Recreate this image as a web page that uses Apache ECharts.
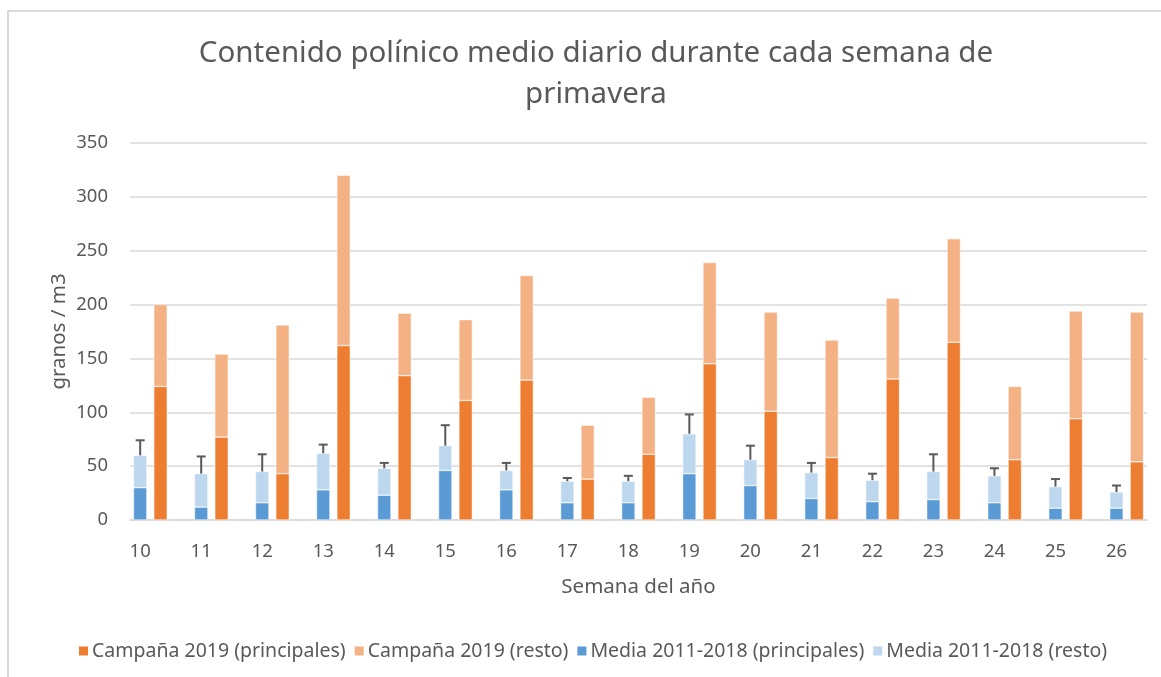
<!DOCTYPE html>
<html>
<head>
<meta charset="utf-8">
<script src="https://cdn.jsdelivr.net/npm/echarts@6/dist/echarts.min.js"></script>
<style>
  html, body { margin: 0; padding: 0; background: #fff; }
  #chart { width: 1161px; height: 677px; }
</style>
</head>
<body>
<div id="chart"></div>
<script>
// weeks of the year
var semanas = ['10','11','12','13','14','15','16','17','18','19','20','21','22','23','24','25','26'];

// Campaña 2019
var campPrinc = [124, 77, 43, 162, 134, 111, 130, 38, 61, 145, 101, 58, 131, 165, 56, 94, 54];
var campResto = [76, 77, 138, 158, 58, 75, 97, 50, 53, 94, 92, 109, 75, 96, 68, 100, 139];

// Media 2011-2018
var mediaPrinc = [30, 12, 16, 28, 23, 46, 28, 16, 16, 43, 32, 20, 17, 19, 16, 11, 11];
var mediaResto = [30, 31, 29, 34, 25, 23, 18, 20, 20, 37, 24, 24, 20, 26, 25, 20, 15];
// error bar (upper) on the media stack
var mediaError = [14, 16, 16, 8, 5, 19, 7, 3, 5, 18, 13, 9, 6, 16, 7, 7, 6];

// each week gets slots: media bar, campaña bar, gap
var slots = [];
var sMediaP = [], sMediaR = [], sCampP = [], sCampR = [], errData = [];
for (var i = 0; i < semanas.length; i++) {
  var m = slots.length;
  slots.push(semanas[i]);
  sMediaP.push(mediaPrinc[i]); sMediaR.push(mediaResto[i]); sCampP.push('-'); sCampR.push('-');
  var tot = mediaPrinc[i] + mediaResto[i];
  errData.push([m, tot, tot + mediaError[i]]);
  slots.push('');
  sMediaP.push('-'); sMediaR.push('-'); sCampP.push(campPrinc[i]); sCampR.push(campResto[i]);
  if (i < semanas.length - 1) {
    slots.push('');
    sMediaP.push('-'); sMediaR.push('-'); sCampP.push('-'); sCampR.push('-');
  }
}

var txt = '#595959';
var font = 'Noto Sans';

var myChart = echarts.init(document.getElementById('chart'));
var option = {
  backgroundColor: '#fff',
  animation: false,
  textStyle: { fontFamily: font },
  title: {
    text: 'Contenido polínico medio diario durante cada semana de\nprimavera',
    left: 591,
    textAlign: 'center',
    top: 28,
    textStyle: { fontFamily: font, fontSize: 29.5, fontWeight: 'normal', color: txt, lineHeight: 41 }
  },
  graphic: [{
    type: 'rect',
    shape: { x: 8, y: 11, width: 1200, height: 700 },
    style: { fill: 'none', stroke: '#d9d9d9', lineWidth: 2 },
    silent: true
  }],
  legend: {
    data: ['Campaña 2019 (principales)', 'Campaña 2019 (resto)', 'Media 2011-2018 (principales)', 'Media 2011-2018 (resto)'],
    left: 72,
    top: 636,
    icon: 'rect',
    itemWidth: 11,
    itemHeight: 11,
    itemGap: 7,
    textStyle: { fontFamily: font, fontSize: 19.5, color: txt, padding: [0, 0, 0, -2] }
  },
  grid: { left: 130, right: 14, top: 143, bottom: 157 },
  xAxis: {
    type: 'category',
    data: slots,
    name: 'Semana del año',
    nameLocation: 'middle',
    nameGap: 57,
    nameTextStyle: { fontFamily: font, fontSize: 20.5, color: txt },
    axisTick: { show: false },
    axisLine: { lineStyle: { color: '#d9d9d9', width: 1.5 } },
    axisLabel: { interval: 0, fontSize: 18.5, color: txt, margin: 22 }
  },
  yAxis: {
    type: 'value',
    min: 0,
    max: 350,
    interval: 50,
    name: 'granos / m3',
    nameLocation: 'middle',
    nameRotate: 90,
    nameMoveOverlap: false,
    nameGap: 60,
    nameTextStyle: { fontFamily: font, fontSize: 20.5, color: txt },
    axisLine: { show: false },
    axisTick: { show: false },
    axisLabel: { fontSize: 18.5, color: txt, margin: 22 },
    splitLine: { lineStyle: { color: '#d9d9d9', width: 1.5 } }
  },
  series: [
    {
      name: 'Media 2011-2018 (principales)', type: 'bar', stack: 'total',
      barCategoryGap: '34%',
      itemStyle: { color: '#5B9BD5', borderColor: '#fff', borderWidth: 0.5 },
      data: sMediaP
    },
    {
      name: 'Media 2011-2018 (resto)', type: 'bar', stack: 'total',
      itemStyle: { color: '#BDD7EE', borderColor: '#fff', borderWidth: 0.5 },
      data: sMediaR
    },
    {
      name: 'Campaña 2019 (principales)', type: 'bar', stack: 'total',
      itemStyle: { color: '#ED7D31', borderColor: '#fff', borderWidth: 0.5 },
      data: sCampP
    },
    {
      name: 'Campaña 2019 (resto)', type: 'bar', stack: 'total',
      itemStyle: { color: '#F4B183', borderColor: '#fff', borderWidth: 0.5 },
      data: sCampR
    },
    {
      name: 'error', type: 'custom', z: 5,
      encode: { x: 0, y: [1, 2] },
      data: errData,
      renderItem: function (params, api) {
        var base = api.coord([api.value(0), api.value(1)]);
        var top = api.coord([api.value(0), api.value(2)]);
        var st = { stroke: '#595959', lineWidth: 2 };
        return {
          type: 'group',
          children: [
            { type: 'line', shape: { x1: base[0], y1: base[1], x2: top[0], y2: top[1] }, style: st },
            { type: 'line', shape: { x1: top[0] - 4.5, y1: top[1], x2: top[0] + 4.5, y2: top[1] }, style: st }
          ]
        };
      }
    }
  ]
};
myChart.setOption(option);
</script>
</body>
</html>
